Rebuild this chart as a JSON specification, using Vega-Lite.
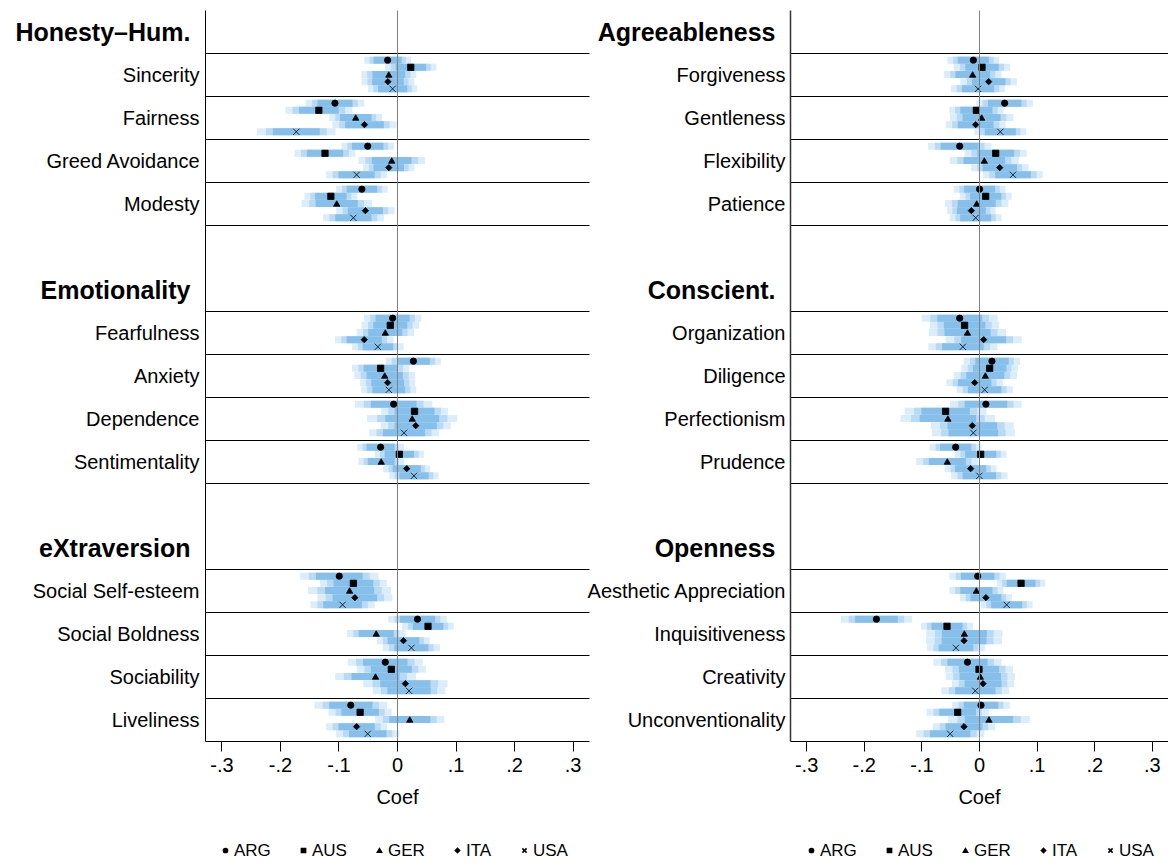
{
  "$schema": "https://vega.github.io/schema/vega-lite/v6.json",
  "padding": {"left": 14, "top": 10, "right": 0, "bottom": 0},
  "background": "white",
  "config": {
    "font": "Liberation Sans",
    "view": {"stroke": null},
    "axis": {"labelColor": "black", "titleColor": "black", "domainColor": "black", "tickColor": "black", "labelFont": "Liberation Sans", "titleFont": "Liberation Sans"},
    "legend": {"labelFont": "Liberation Sans", "labelColor": "black"}
  },
  "datasets": {
    "L": [
      {"t":"Sincerity","c":"ARG","e":-0.016,"w1":0.024,"w2":0.031,"w3":0.040},
      {"t":"Sincerity","c":"AUS","e":0.0235,"w1":0.026,"w2":0.034,"w3":0.044},
      {"t":"Sincerity","c":"GER","e":-0.014,"w1":0.028,"w2":0.037,"w3":0.047},
      {"t":"Sincerity","c":"ITA","e":-0.0155,"w1":0.027,"w2":0.035,"w3":0.045},
      {"t":"Sincerity","c":"USA","e":-0.0075,"w1":0.025,"w2":0.033,"w3":0.042},
      {"t":"Fairness","c":"ARG","e":-0.106,"w1":0.030,"w2":0.039,"w3":0.050},
      {"t":"Fairness","c":"AUS","e":-0.1335,"w1":0.034,"w2":0.045,"w3":0.057},
      {"t":"Fairness","c":"GER","e":-0.0705,"w1":0.027,"w2":0.035,"w3":0.045},
      {"t":"Fairness","c":"ITA","e":-0.0556,"w1":0.033,"w2":0.043,"w3":0.055},
      {"t":"Fairness","c":"USA","e":-0.172,"w1":0.040,"w2":0.052,"w3":0.067},
      {"t":"Greed Avoidance","c":"ARG","e":-0.050,"w1":0.027,"w2":0.035,"w3":0.045},
      {"t":"Greed Avoidance","c":"AUS","e":-0.123,"w1":0.031,"w2":0.041,"w3":0.052},
      {"t":"Greed Avoidance","c":"GER","e":-0.009,"w1":0.034,"w2":0.045,"w3":0.057},
      {"t":"Greed Avoidance","c":"ITA","e":-0.014,"w1":0.026,"w2":0.034,"w3":0.044},
      {"t":"Greed Avoidance","c":"USA","e":-0.069,"w1":0.031,"w2":0.041,"w3":0.052},
      {"t":"Modesty","c":"ARG","e":-0.060,"w1":0.026,"w2":0.034,"w3":0.044},
      {"t":"Modesty","c":"AUS","e":-0.113,"w1":0.027,"w2":0.035,"w3":0.045},
      {"t":"Modesty","c":"GER","e":-0.103,"w1":0.036,"w2":0.047,"w3":0.060},
      {"t":"Modesty","c":"ITA","e":-0.054,"w1":0.030,"w2":0.039,"w3":0.050},
      {"t":"Modesty","c":"USA","e":-0.0745,"w1":0.031,"w2":0.041,"w3":0.052},
      {"t":"Fearfulness","c":"ARG","e":-0.0075,"w1":0.029,"w2":0.038,"w3":0.049},
      {"t":"Fearfulness","c":"AUS","e":-0.0115,"w1":0.029,"w2":0.038,"w3":0.049},
      {"t":"Fearfulness","c":"GER","e":-0.020,"w1":0.029,"w2":0.038,"w3":0.049},
      {"t":"Fearfulness","c":"ITA","e":-0.056,"w1":0.030,"w2":0.039,"w3":0.050},
      {"t":"Fearfulness","c":"USA","e":-0.0327,"w1":0.026,"w2":0.034,"w3":0.044},
      {"t":"Anxiety","c":"ARG","e":0.028,"w1":0.028,"w2":0.037,"w3":0.047},
      {"t":"Anxiety","c":"AUS","e":-0.028,"w1":0.029,"w2":0.038,"w3":0.049},
      {"t":"Anxiety","c":"GER","e":-0.021,"w1":0.031,"w2":0.041,"w3":0.052},
      {"t":"Anxiety","c":"ITA","e":-0.016,"w1":0.028,"w2":0.037,"w3":0.047},
      {"t":"Anxiety","c":"USA","e":-0.014,"w1":0.028,"w2":0.037,"w3":0.047},
      {"t":"Dependence","c":"ARG","e":-0.0057,"w1":0.039,"w2":0.051,"w3":0.066},
      {"t":"Dependence","c":"AUS","e":0.030,"w1":0.034,"w2":0.045,"w3":0.057},
      {"t":"Dependence","c":"GER","e":0.026,"w1":0.046,"w2":0.060,"w3":0.077},
      {"t":"Dependence","c":"ITA","e":0.032,"w1":0.036,"w2":0.047,"w3":0.060},
      {"t":"Dependence","c":"USA","e":0.012,"w1":0.036,"w2":0.047,"w3":0.060},
      {"t":"Sentimentality","c":"ARG","e":-0.028,"w1":0.024,"w2":0.031,"w3":0.040},
      {"t":"Sentimentality","c":"AUS","e":0.004,"w1":0.025,"w2":0.033,"w3":0.042},
      {"t":"Sentimentality","c":"GER","e":-0.027,"w1":0.023,"w2":0.030,"w3":0.039},
      {"t":"Sentimentality","c":"ITA","e":0.0166,"w1":0.024,"w2":0.031,"w3":0.040},
      {"t":"Sentimentality","c":"USA","e":0.029,"w1":0.025,"w2":0.033,"w3":0.042},
      {"t":"Social Self-esteem","c":"ARG","e":-0.0986,"w1":0.040,"w2":0.052,"w3":0.067},
      {"t":"Social Self-esteem","c":"AUS","e":-0.0745,"w1":0.034,"w2":0.045,"w3":0.057},
      {"t":"Social Self-esteem","c":"GER","e":-0.081,"w1":0.042,"w2":0.055,"w3":0.071},
      {"t":"Social Self-esteem","c":"ITA","e":-0.072,"w1":0.038,"w2":0.050,"w3":0.064},
      {"t":"Social Self-esteem","c":"USA","e":-0.093,"w1":0.033,"w2":0.043,"w3":0.055},
      {"t":"Social Boldness","c":"ARG","e":0.035,"w1":0.030,"w2":0.039,"w3":0.050},
      {"t":"Social Boldness","c":"AUS","e":0.053,"w1":0.026,"w2":0.034,"w3":0.044},
      {"t":"Social Boldness","c":"GER","e":-0.0355,"w1":0.030,"w2":0.039,"w3":0.050},
      {"t":"Social Boldness","c":"ITA","e":0.011,"w1":0.027,"w2":0.035,"w3":0.045},
      {"t":"Social Boldness","c":"USA","e":0.0246,"w1":0.029,"w2":0.038,"w3":0.049},
      {"t":"Sociability","c":"ARG","e":-0.020,"w1":0.038,"w2":0.050,"w3":0.064},
      {"t":"Sociability","c":"AUS","e":-0.0097,"w1":0.035,"w2":0.046,"w3":0.059},
      {"t":"Sociability","c":"GER","e":-0.0367,"w1":0.041,"w2":0.054,"w3":0.069},
      {"t":"Sociability","c":"ITA","e":0.0143,"w1":0.043,"w2":0.056,"w3":0.072},
      {"t":"Sociability","c":"USA","e":0.0206,"w1":0.037,"w2":0.048,"w3":0.062},
      {"t":"Liveliness","c":"ARG","e":-0.079,"w1":0.037,"w2":0.048,"w3":0.062},
      {"t":"Liveliness","c":"AUS","e":-0.063,"w1":0.032,"w2":0.042,"w3":0.054},
      {"t":"Liveliness","c":"GER","e":0.0218,"w1":0.035,"w2":0.046,"w3":0.059},
      {"t":"Liveliness","c":"ITA","e":-0.069,"w1":0.031,"w2":0.041,"w3":0.052},
      {"t":"Liveliness","c":"USA","e":-0.050,"w1":0.032,"w2":0.042,"w3":0.054}
    ],
    "R": [
      {"t":"Forgiveness","c":"ARG","e":-0.0098,"w1":0.027,"w2":0.035,"w3":0.045},
      {"t":"Forgiveness","c":"AUS","e":0.0052,"w1":0.029,"w2":0.038,"w3":0.049},
      {"t":"Forgiveness","c":"GER","e":-0.011,"w1":0.030,"w2":0.039,"w3":0.050},
      {"t":"Forgiveness","c":"ITA","e":0.0168,"w1":0.029,"w2":0.038,"w3":0.049},
      {"t":"Forgiveness","c":"USA","e":-0.0017,"w1":0.028,"w2":0.037,"w3":0.047},
      {"t":"Gentleness","c":"ARG","e":0.0445,"w1":0.029,"w2":0.038,"w3":0.049},
      {"t":"Gentleness","c":"AUS","e":-0.0046,"w1":0.028,"w2":0.037,"w3":0.047},
      {"t":"Gentleness","c":"GER","e":0.0046,"w1":0.033,"w2":0.043,"w3":0.055},
      {"t":"Gentleness","c":"ITA","e":-0.0058,"w1":0.031,"w2":0.041,"w3":0.052},
      {"t":"Gentleness","c":"USA","e":0.037,"w1":0.027,"w2":0.035,"w3":0.045},
      {"t":"Flexibility","c":"ARG","e":-0.0335,"w1":0.033,"w2":0.043,"w3":0.055},
      {"t":"Flexibility","c":"AUS","e":0.029,"w1":0.032,"w2":0.042,"w3":0.054},
      {"t":"Flexibility","c":"GER","e":0.0092,"w1":0.036,"w2":0.047,"w3":0.060},
      {"t":"Flexibility","c":"ITA","e":0.036,"w1":0.030,"w2":0.039,"w3":0.050},
      {"t":"Flexibility","c":"USA","e":0.059,"w1":0.031,"w2":0.041,"w3":0.052},
      {"t":"Patience","c":"ARG","e":0.001,"w1":0.027,"w2":0.035,"w3":0.045},
      {"t":"Patience","c":"AUS","e":0.0116,"w1":0.027,"w2":0.035,"w3":0.045},
      {"t":"Patience","c":"GER","e":-0.004,"w1":0.033,"w2":0.043,"w3":0.055},
      {"t":"Patience","c":"ITA","e":-0.0133,"w1":0.025,"w2":0.033,"w3":0.042},
      {"t":"Patience","c":"USA","e":-0.0058,"w1":0.027,"w2":0.035,"w3":0.045},
      {"t":"Organization","c":"ARG","e":-0.0335,"w1":0.039,"w2":0.051,"w3":0.066},
      {"t":"Organization","c":"AUS","e":-0.025,"w1":0.036,"w2":0.047,"w3":0.060},
      {"t":"Organization","c":"GER","e":-0.020,"w1":0.040,"w2":0.052,"w3":0.067},
      {"t":"Organization","c":"ITA","e":0.0081,"w1":0.039,"w2":0.051,"w3":0.066},
      {"t":"Organization","c":"USA","e":-0.028,"w1":0.036,"w2":0.047,"w3":0.060},
      {"t":"Diligence","c":"ARG","e":0.0225,"w1":0.029,"w2":0.038,"w3":0.049},
      {"t":"Diligence","c":"AUS","e":0.0185,"w1":0.029,"w2":0.038,"w3":0.049},
      {"t":"Diligence","c":"GER","e":0.011,"w1":0.033,"w2":0.043,"w3":0.055},
      {"t":"Diligence","c":"ITA","e":-0.0075,"w1":0.029,"w2":0.038,"w3":0.049},
      {"t":"Diligence","c":"USA","e":0.0098,"w1":0.029,"w2":0.038,"w3":0.049},
      {"t":"Perfectionism","c":"ARG","e":0.012,"w1":0.037,"w2":0.048,"w3":0.062},
      {"t":"Perfectionism","c":"AUS","e":-0.058,"w1":0.042,"w2":0.055,"w3":0.071},
      {"t":"Perfectionism","c":"GER","e":-0.054,"w1":0.049,"w2":0.064,"w3":0.082},
      {"t":"Perfectionism","c":"ITA","e":-0.0116,"w1":0.043,"w2":0.056,"w3":0.072},
      {"t":"Perfectionism","c":"USA","e":-0.0098,"w1":0.043,"w2":0.056,"w3":0.072},
      {"t":"Prudence","c":"ARG","e":-0.0405,"w1":0.027,"w2":0.035,"w3":0.045},
      {"t":"Prudence","c":"AUS","e":0.0029,"w1":0.027,"w2":0.035,"w3":0.045},
      {"t":"Prudence","c":"GER","e":-0.055,"w1":0.032,"w2":0.042,"w3":0.054},
      {"t":"Prudence","c":"ITA","e":-0.0145,"w1":0.027,"w2":0.035,"w3":0.045},
      {"t":"Prudence","c":"USA","e":0.0006,"w1":0.029,"w2":0.038,"w3":0.049},
      {"t":"Aesthetic Appreciation","c":"ARG","e":-0.0023,"w1":0.029,"w2":0.038,"w3":0.049},
      {"t":"Aesthetic Appreciation","c":"AUS","e":0.073,"w1":0.025,"w2":0.033,"w3":0.042},
      {"t":"Aesthetic Appreciation","c":"GER","e":-0.0046,"w1":0.028,"w2":0.037,"w3":0.047},
      {"t":"Aesthetic Appreciation","c":"ITA","e":0.012,"w1":0.027,"w2":0.035,"w3":0.045},
      {"t":"Aesthetic Appreciation","c":"USA","e":0.048,"w1":0.027,"w2":0.035,"w3":0.045},
      {"t":"Inquisitiveness","c":"ARG","e":-0.178,"w1":0.037,"w2":0.048,"w3":0.062},
      {"t":"Inquisitiveness","c":"AUS","e":-0.0555,"w1":0.027,"w2":0.035,"w3":0.045},
      {"t":"Inquisitiveness","c":"GER","e":-0.0254,"w1":0.039,"w2":0.051,"w3":0.066},
      {"t":"Inquisitiveness","c":"ITA","e":-0.026,"w1":0.039,"w2":0.051,"w3":0.066},
      {"t":"Inquisitiveness","c":"USA","e":-0.040,"w1":0.030,"w2":0.039,"w3":0.050},
      {"t":"Creativity","c":"ARG","e":-0.020,"w1":0.035,"w2":0.046,"w3":0.059},
      {"t":"Creativity","c":"AUS","e":0.000,"w1":0.035,"w2":0.046,"w3":0.059},
      {"t":"Creativity","c":"GER","e":0.0023,"w1":0.036,"w2":0.047,"w3":0.060},
      {"t":"Creativity","c":"ITA","e":0.007,"w1":0.032,"w2":0.042,"w3":0.054},
      {"t":"Creativity","c":"USA","e":-0.0064,"w1":0.035,"w2":0.046,"w3":0.059},
      {"t":"Unconventionality","c":"ARG","e":0.0035,"w1":0.030,"w2":0.039,"w3":0.050},
      {"t":"Unconventionality","c":"AUS","e":-0.037,"w1":0.032,"w2":0.042,"w3":0.054},
      {"t":"Unconventionality","c":"GER","e":0.0173,"w1":0.042,"w2":0.055,"w3":0.071},
      {"t":"Unconventionality","c":"ITA","e":-0.026,"w1":0.032,"w2":0.042,"w3":0.054},
      {"t":"Unconventionality","c":"USA","e":-0.050,"w1":0.035,"w2":0.046,"w3":0.059}
    ]
  },
  "spacing": -4,
  "resolve": {
    "scale": {"x": "independent", "y": "independent", "yOffset": "independent", "shape": "independent"},
    "legend": {"shape": "independent"}
  },
  "hconcat": [
    {
      "width": 384,
      "height": 731,
      "data": {"name": "L"},
      "encoding": {
        "y": {"field": "t", "type": "nominal",
          "scale": {"domain": ["Honesty–Hum.","Sincerity","Fairness","Greed Avoidance","Modesty"," ","Emotionality","Fearfulness","Anxiety","Dependence","Sentimentality","  ","eXtraversion","Social Self-esteem","Social Boldness","Sociability","Liveliness"], "paddingInner": 0, "paddingOuter": 0},
          "axis": {"title": null, "ticks": false, "domain": true, "domainColor": "black", "domainWidth": 1, "labelLimit": 400, "labelBaseline": "middle",
            "bandPosition": 0, "labelOffset": 1.5, "grid": true, "gridColor": "black", "gridWidth": 1,
            "gridOpacity": {"condition": {"test": "datum.value === 'Honesty–Hum.' || datum.value === 'Emotionality' || datum.value === 'eXtraversion'", "value": 0}, "value": 1},
            "labelFontSize": {"condition": {"test": "datum.value === 'Honesty–Hum.' || datum.value === 'Emotionality' || datum.value === 'eXtraversion'", "value": 25}, "value": 20},
            "labelFontWeight": {"condition": {"test": "datum.value === 'Honesty–Hum.' || datum.value === 'Emotionality' || datum.value === 'eXtraversion'", "value": "bold"}, "value": "normal"},
            "labelPadding": {"condition": {"test": "datum.value === 'Honesty–Hum.' || datum.value === 'Emotionality' || datum.value === 'eXtraversion'", "value": 15}, "value": 6}
          }
        },
        "yOffset": {"field": "c", "type": "nominal", "scale": {"domain": ["ARG","AUS","GER","ITA","USA"], "paddingInner": 0, "paddingOuter": 0.5}},
        "x": {"field": "e", "type": "quantitative", "scale": {"domain": [-0.328, 0.328], "nice": false, "zero": false},
          "axis": {"title": "Coef", "values": [-0.3,-0.2,-0.1,0,0.1,0.2,0.3], "tickSize": 10, "tickColor": "black", "domainColor": "black", "labelFontSize": 20, "titleFontSize": 20, "titleFontWeight": "normal", "labelPadding": 4, "titlePadding": 12, "zindex": 1,
            "grid": true, "gridColor": "#808080", "gridWidth": 1, "gridOpacity": {"condition": {"test": "datum.value === 0", "value": 1}, "value": 0},
            "labelExpr": "datum.value == 0 ? '0' : (datum.value < 0 ? '-' : '') + '.' + round(abs(datum.value) * 10)"}}
      },
      "layer": [
        {"mark": {"type": "errorbar", "ticks": false, "thickness": 7, "rule": {"color": "#DCEDFA", "strokeWidth": 7, "strokeCap": "butt"}}, "encoding": {"xError": {"field": "w3"}}},
        {"mark": {"type": "errorbar", "ticks": false, "thickness": 7, "rule": {"color": "#B9DAF4", "strokeWidth": 7, "strokeCap": "butt"}}, "encoding": {"xError": {"field": "w2"}}},
        {"mark": {"type": "errorbar", "ticks": false, "thickness": 7, "rule": {"color": "#86C0EA", "strokeWidth": 7, "strokeCap": "butt"}}, "encoding": {"xError": {"field": "w1"}}},
        {
          "mark": {"type": "point", "filled": true, "color": "black", "stroke": "black", "strokeWidth": 0.8, "size": 40, "opacity": 1},
          "encoding": {
            "shape": {"field": "c", "type": "nominal",
              "scale": {"domain": ["ARG","AUS","GER","ITA","USA"], "range": ["circle","square","triangle-up","diamond","M-1,-1L1,1M-1,1L1,-1"]},
              "legend": {"title": null, "orient": "none", "legendX": 12, "legendY": 832, "direction": "horizontal", "gridAlign": "none", "labelFontSize": 17, "symbolSize": 18, "labelOffset": 0, "columnPadding": 24,
                "encode": {"symbols": {"update": {"stroke": {"value": "black"}, "strokeWidth": {"value": 1}, "fill": {"value": "black"}}}}}
            }
          }
        }
      ]
    },
    {
      "width": 378,
      "height": 731,
      "data": {"name": "R"},
      "encoding": {
        "y": {"field": "t", "type": "nominal",
          "scale": {"domain": ["Agreeableness","Forgiveness","Gentleness","Flexibility","Patience"," ","Conscient.","Organization","Diligence","Perfectionism","Prudence","  ","Openness","Aesthetic Appreciation","Inquisitiveness","Creativity","Unconventionality"], "paddingInner": 0, "paddingOuter": 0},
          "axis": {"title": null, "ticks": false, "domain": true, "domainColor": "#333333", "domainWidth": 1.5, "labelLimit": 400, "labelBaseline": "middle",
            "bandPosition": 0, "labelOffset": 1.5, "grid": true, "gridColor": "black", "gridWidth": 1,
            "gridOpacity": {"condition": {"test": "datum.value === 'Agreeableness' || datum.value === 'Conscient.' || datum.value === 'Openness'", "value": 0}, "value": 1},
            "labelFontSize": {"condition": {"test": "datum.value === 'Agreeableness' || datum.value === 'Conscient.' || datum.value === 'Openness'", "value": 25}, "value": 20},
            "labelFontWeight": {"condition": {"test": "datum.value === 'Agreeableness' || datum.value === 'Conscient.' || datum.value === 'Openness'", "value": "bold"}, "value": "normal"},
            "labelPadding": {"condition": {"test": "datum.value === 'Agreeableness' || datum.value === 'Conscient.' || datum.value === 'Openness'", "value": 15}, "value": 5}
          }
        },
        "yOffset": {"field": "c", "type": "nominal", "scale": {"domain": ["ARG","AUS","GER","ITA","USA"], "paddingInner": 0, "paddingOuter": 0.5}},
        "x": {"field": "e", "type": "quantitative", "scale": {"domain": [-0.328, 0.328], "nice": false, "zero": false},
          "axis": {"title": "Coef", "values": [-0.3,-0.2,-0.1,0,0.1,0.2,0.3], "tickSize": 10, "tickColor": "black", "domainColor": "black", "labelFontSize": 20, "titleFontSize": 20, "titleFontWeight": "normal", "labelPadding": 4, "titlePadding": 12, "zindex": 1,
            "grid": true, "gridColor": "#808080", "gridWidth": 1, "gridOpacity": {"condition": {"test": "datum.value === 0", "value": 1}, "value": 0},
            "labelExpr": "datum.value == 0 ? '0' : (datum.value < 0 ? '-' : '') + '.' + round(abs(datum.value) * 10)"}}
      },
      "layer": [
        {"mark": {"type": "errorbar", "ticks": false, "thickness": 7, "rule": {"color": "#DCEDFA", "strokeWidth": 7, "strokeCap": "butt"}}, "encoding": {"xError": {"field": "w3"}}},
        {"mark": {"type": "errorbar", "ticks": false, "thickness": 7, "rule": {"color": "#B9DAF4", "strokeWidth": 7, "strokeCap": "butt"}}, "encoding": {"xError": {"field": "w2"}}},
        {"mark": {"type": "errorbar", "ticks": false, "thickness": 7, "rule": {"color": "#86C0EA", "strokeWidth": 7, "strokeCap": "butt"}}, "encoding": {"xError": {"field": "w1"}}},
        {
          "mark": {"type": "point", "filled": true, "color": "black", "stroke": "black", "strokeWidth": 0.8, "size": 40, "opacity": 1},
          "encoding": {
            "shape": {"field": "c", "type": "nominal",
              "scale": {"domain": ["ARG","AUS","GER","ITA","USA"], "range": ["circle","square","triangle-up","diamond","M-1,-1L1,1M-1,1L1,-1"]},
              "legend": {"title": null, "orient": "none", "legendX": 13, "legendY": 832, "direction": "horizontal", "gridAlign": "none", "labelFontSize": 17, "symbolSize": 18, "labelOffset": 0, "columnPadding": 24,
                "encode": {"symbols": {"update": {"stroke": {"value": "black"}, "strokeWidth": {"value": 1}, "fill": {"value": "black"}}}}}
            }
          }
        }
      ]
    }
  ]
}
